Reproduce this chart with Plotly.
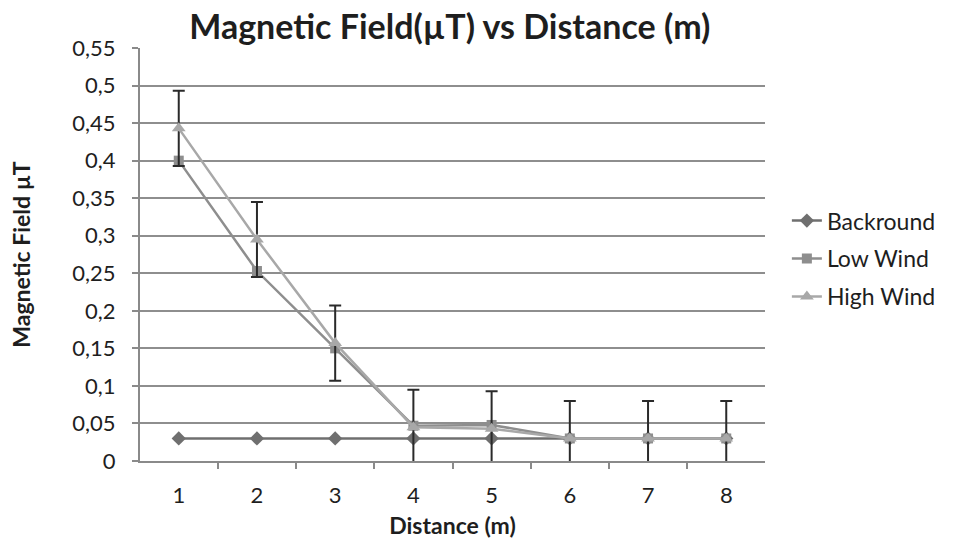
import plotly.graph_objects as go

distances = ["1", "2", "3", "4", "5", "6", "7", "8"]
background = [0.03, 0.03, 0.03, 0.03, 0.03, 0.03, 0.03, 0.03]
low_wind = [0.40, 0.253, 0.150, 0.047, 0.048, 0.030, 0.030, 0.030]
high_wind = [0.443, 0.295, 0.157, 0.045, 0.043, 0.030, 0.030, 0.030]
high_err = [0.05, 0.05, 0.05, 0.05, 0.05, 0.05, 0.05, 0.05]
y_ticks = [0, 0.05, 0.1, 0.15, 0.2, 0.25, 0.3, 0.35, 0.4, 0.45, 0.5, 0.55]
y_tick_text = ["0", "0,05", "0,1", "0,15", "0,2", "0,25", "0,3", "0,35", "0,4", "0,45", "0,5", "0,55"]

FONT = "Lato"
TXT = "#1e1e1e"

fig = go.Figure()
fig.add_trace(go.Scatter(
    x=distances, y=background, name="Backround", mode="lines+markers",
    line=dict(color="#6f6f6f", width=2.5),
    marker=dict(symbol="diamond", size=11, color="#6f6f6f"),
    legendgroup="a"))
fig.add_trace(go.Scatter(
    x=distances, y=low_wind, name="Low Wind", mode="lines+markers",
    line=dict(color="#8e8e8e", width=2.5),
    marker=dict(symbol="square", size=10, color="#8e8e8e"),
    legendgroup="b"))
fig.add_trace(go.Scatter(
    x=distances, y=high_wind, name="High Wind", mode="lines+markers",
    line=dict(color="#a8a8a8", width=2.5),
    marker=dict(symbol="triangle-up", size=12, color="#a8a8a8"),
    error_y=dict(type="data", array=high_err, visible=True,
                 color="#2a2a2a", thickness=2, width=6),
    legendgroup="c"))

fig.update_layout(
    width=957, height=541,
    paper_bgcolor="white", plot_bgcolor="white",
    margin=dict(l=140, r=192, t=48, b=80),
    title=dict(text="<b>Magnetic Field(µT) vs Distance (m)</b>",
               x=0.47, xanchor="center", y=0.95, yanchor="middle",
               font=dict(family=FONT, size=34, color=TXT)),
    font=dict(family=FONT, size=22, color=TXT),
    legend=dict(x=1.035, xanchor="left", y=0.49, yanchor="middle",
                font=dict(family=FONT, size=23, color=TXT),
                tracegroupgap=5, bgcolor="rgba(0,0,0,0)"),
    showlegend=True,
)
fig.update_xaxes(
    type="category", tickson="boundaries", ticks="outside", ticklen=6,
    tickcolor="#8a8a8a", tickwidth=2, automargin=False,
    showline=True, linecolor="#8a8a8a", linewidth=2,
    showgrid=False, zeroline=False, ticklabelstandoff=14,
    tickfont=dict(family=FONT, size=22, color=TXT),
    title=dict(text="<b>Distance (m)</b>", font=dict(family=FONT, size=23, color=TXT), standoff=10),
)
fig.update_yaxes(
    range=[0, 0.55], tickvals=y_ticks, ticktext=y_tick_text,
    ticks="outside", ticklen=6, tickcolor="#8a8a8a", tickwidth=2, automargin=False,
    showline=True, linecolor="#8a8a8a", linewidth=2,
    showgrid=True, gridcolor="#8e8e8e", gridwidth=2, zeroline=False,
    ticklabelstandoff=12,
    tickfont=dict(family=FONT, size=22, color=TXT),
    title=dict(text="<b>Magnetic Field µT</b>", font=dict(family=FONT, size=23, color=TXT), standoff=35),
)

fig.write_html("out.html")
